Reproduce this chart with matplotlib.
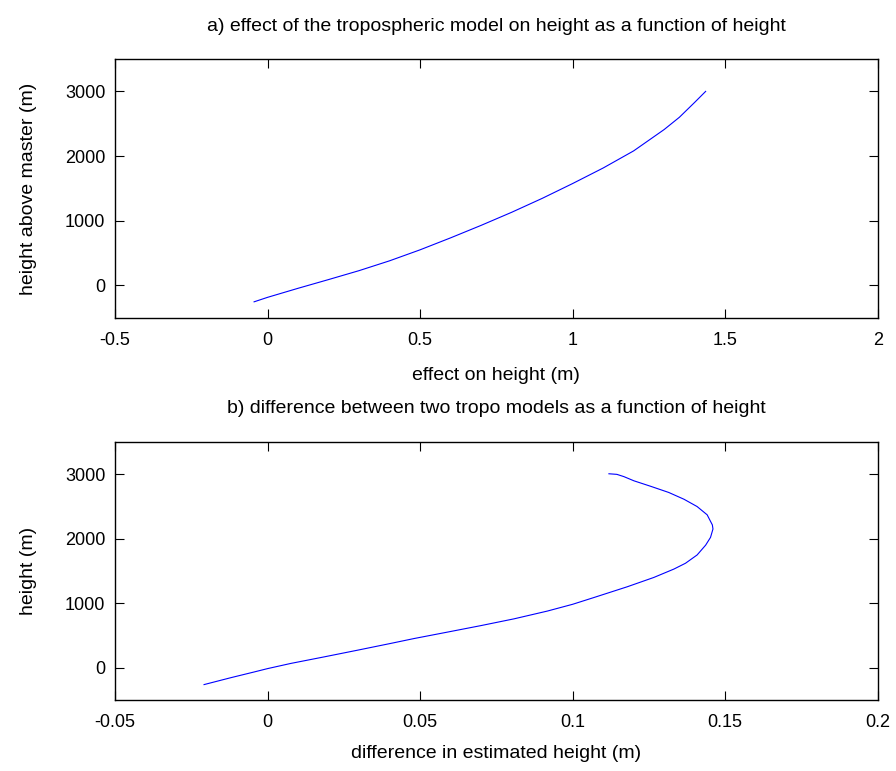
import numpy as np
import matplotlib
matplotlib.use("Agg")
import matplotlib.pyplot as plt

# a) effect of tropo model (m) vs height above master (m)
effect_a = [-0.044, 0.0, 0.1, 0.2, 0.3, 0.4, 0.5, 0.6, 0.7, 0.8, 0.9,
            1.0, 1.1, 1.2, 1.3, 1.35, 1.4, 1.436]
height_a = [-254, -185, -45, 90, 228, 380, 550, 735, 928, 1130, 1345,
            1575, 1815, 2080, 2410, 2600, 2830, 3000]

# b) difference between two tropo models (m) vs height (m)
diff_b = [-0.0208, -0.012, -0.0044, 0.0, 0.0076, 0.0185, 0.0295, 0.0404,
          0.048, 0.059, 0.0699, 0.0808, 0.0917, 0.1, 0.107, 0.1179, 0.1266,
          0.1332, 0.137, 0.1408, 0.1436, 0.1452, 0.146, 0.1458, 0.1441,
          0.1408, 0.1365, 0.1315, 0.1256, 0.1201, 0.1168, 0.1145, 0.1119]
height_b = [-257, -150, -62, -10, 70, 171, 275, 380, 455, 555, 655, 760,
            880, 985, 1090, 1256, 1400, 1530, 1620, 1748, 1900, 2020, 2150,
            2213, 2369, 2497, 2610, 2715, 2810, 2895, 2960, 2995, 3004]

xticks_a = [-0.5, 0, 0.5, 1, 1.5, 2]
xticklabels_a = ['-0.5', '0', '0.5', '1', '1.5', '2']
xticks_b = [-0.05, 0, 0.05, 0.1, 0.15, 0.2]
xticklabels_b = ['-0.05', '0', '0.05', '0.1', '0.15', '0.2']
yticks = [0, 1000, 2000, 3000]

plt.rcParams['font.family'] = ['Liberation Sans', 'DejaVu Sans']
fs = 13
fs_lab = 14

fig = plt.figure(figsize=(8.96, 7.71), dpi=100)
ax1 = fig.add_axes([0.1283, 0.5879, 0.8513, 0.3355])
ax2 = fig.add_axes([0.1283, 0.0917, 0.8513, 0.3354])

def style(ax, xt, xtl):
    ax.set_ylim(-500, 3500)
    ax.set_xticks(xt)
    ax.set_xticklabels(xtl)
    ax.set_yticks(yticks)
    ax.tick_params(direction='in', length=6.5, width=0.8, top=True, right=True,
                   labelsize=fs, colors='black')
    ax.tick_params(axis='x', pad=10)
    ax.tick_params(axis='y', pad=7)
    for s in ax.spines.values():
        s.set_linewidth(1.0)

ax1.plot(effect_a, height_a, color='#0000ff', lw=0.8)
ax1.set_xlim(-0.5, 2)
style(ax1, xticks_a, xticklabels_a)
ax1.text(0.5, 1.1276, 'a) effect of the tropospheric model on height as a function of height',
         transform=ax1.transAxes, ha='center', va='center', fontsize=fs_lab)
ax1.set_xlabel('effect on height (m)', fontsize=fs_lab, va='center')
ax1.xaxis.set_label_coords(0.5, -0.2215)
ax1.set_ylabel('height above master (m)', fontsize=fs_lab, va='center')
ax1.yaxis.set_label_coords(-0.114, 0.5)

ax2.plot(diff_b, height_b, color='#0000ff', lw=0.8)
ax2.set_xlim(-0.05, 0.2)
style(ax2, xticks_b, xticklabels_b)
ax2.text(0.5, 1.130, 'b) difference between two tropo models as a function of height',
         transform=ax2.transAxes, ha='center', va='center', fontsize=fs_lab)
ax2.set_xlabel('difference in estimated height (m)', fontsize=fs_lab, va='center')
ax2.xaxis.set_label_coords(0.5, -0.2038)
ax2.set_ylabel('height (m)', fontsize=fs_lab, va='center')
ax2.yaxis.set_label_coords(-0.114, 0.5)

fig.savefig('out.png', dpi=100)
